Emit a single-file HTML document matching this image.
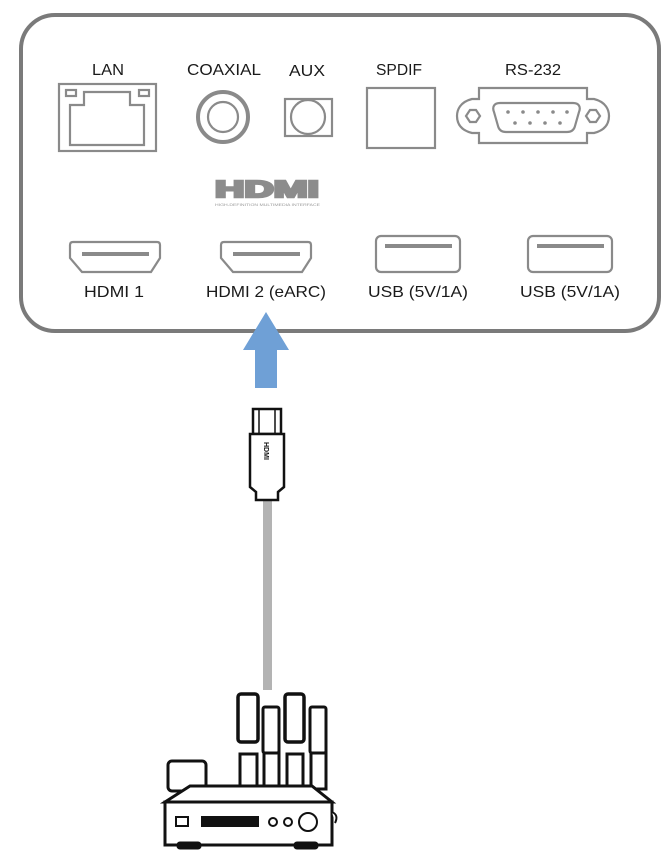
<!DOCTYPE html>
<html><head><meta charset="utf-8"><style>
html,body{margin:0;padding:0;background:#fff;}
svg{display:block;}
text{font-family:"Liberation Sans",sans-serif;fill:#1a1a1a;}
</style></head><body>
<svg width="671" height="865" viewBox="0 0 671 865" xmlns="http://www.w3.org/2000/svg">
<rect x="21" y="15" width="638" height="316" rx="34" fill="#fff" stroke="#7a7a7a" stroke-width="4"/>
<g font-size="16" text-anchor="middle">
<text x="108" y="75" textLength="32" lengthAdjust="spacingAndGlyphs">LAN</text>
<text x="224" y="75" textLength="74" lengthAdjust="spacingAndGlyphs">COAXIAL</text>
<text x="307" y="76" textLength="36" lengthAdjust="spacingAndGlyphs">AUX</text>
<text x="399" y="75" textLength="46" lengthAdjust="spacingAndGlyphs">SPDIF</text>
<text x="533" y="75" textLength="56" lengthAdjust="spacingAndGlyphs">RS-232</text>
<text x="114" y="297" textLength="60" lengthAdjust="spacingAndGlyphs">HDMI 1</text>
<text x="266" y="297" textLength="120" lengthAdjust="spacingAndGlyphs">HDMI 2 (eARC)</text>
<text x="418" y="297" textLength="100" lengthAdjust="spacingAndGlyphs">USB (5V/1A)</text>
<text x="570" y="297" textLength="100" lengthAdjust="spacingAndGlyphs">USB (5V/1A)</text>
</g>
<g fill="none" stroke="#8a8a8a" stroke-width="2.2">
<rect x="59" y="84" width="97" height="67"/>
<path d="M70 145 V105 H84 V92 H130 V105 H144 V145 Z"/>
<rect x="66" y="90" width="10" height="6"/>
<rect x="139" y="90" width="10" height="6"/>
<circle cx="223" cy="117" r="25" stroke-width="4"/>
<circle cx="223" cy="117" r="15"/>
<rect x="285" y="99" width="47" height="37"/>
<circle cx="308" cy="117" r="17"/>
<rect x="367" y="88" width="68" height="60"/>
<path d="M479 99 H472 C460 102 457 110 457 116 C457 123 460 130 472 133 H479 V143 H587 V133 H594 C606 130 609 123 609 116 C609 110 606 102 594 99 H587 V88 H479 Z"/>
<path d="M466 116 l4 -6 h6 l4 6 l-4 6 h-6 z"/>
<path d="M586 116 l4 -6 h6 l4 6 l-4 6 h-6 z"/>
<path d="M500 103 H573 C579 103 581 107 579 112 L575 126 C574 130 571 132 567 132 H506 C502 132 499 130 498 126 L494 112 C492 107 494 103 500 103 Z"/>
<path d="M73 242 H157 C159 242 160 243 160 245 V258 L151 272 H82 L70 258 V245 C70 243 71 242 73 242 Z"/>
<path d="M224 242 H308 C310 242 311 243 311 245 V258 L302 272 H233 L221 258 V245 C221 243 222 242 224 242 Z"/>
<rect x="376" y="236" width="84" height="36" rx="5"/>
<rect x="528" y="236" width="84" height="36" rx="5"/>
</g>
<g fill="#8a8a8a">
<rect x="82" y="252" width="67" height="4"/>
<rect x="233" y="252" width="67" height="4"/>
<rect x="385" y="244" width="67" height="4"/>
<rect x="537" y="244" width="67" height="4"/>
<circle cx="508" cy="112" r="1.8"/><circle cx="523" cy="112" r="1.8"/><circle cx="538" cy="112" r="1.8"/><circle cx="553" cy="112" r="1.8"/><circle cx="567" cy="112" r="1.8"/>
<circle cx="515" cy="123" r="1.8"/><circle cx="530" cy="123" r="1.8"/><circle cx="545" cy="123" r="1.8"/><circle cx="560" cy="123" r="1.8"/>
</g>
<text x="215" y="197" font-size="23" font-weight="bold" style="fill:#8c8c8c;stroke:#8c8c8c;stroke-width:2.5" textLength="104" lengthAdjust="spacingAndGlyphs">HDMI</text>
<text x="215" y="206" font-size="4" style="fill:#999" textLength="105" lengthAdjust="spacingAndGlyphs">HIGH-DEFINITION MULTIMEDIA INTERFACE</text>
<path d="M266 312 L289 350 H277 V388 H255 V350 H243 Z" fill="#6fa0d6"/>
<rect x="263" y="498" width="9" height="192" fill="#b3b3b3"/>
<g fill="#fff" stroke="#111" stroke-width="2.5">
<rect x="253" y="409" width="28" height="25"/>
<path d="M250 434 H284 V487 L278 492 V500 H256 V492 L250 487 Z"/>
</g>
<line x1="259" y1="409" x2="259" y2="434" stroke="#111" stroke-width="1.5"/>
<line x1="275" y1="409" x2="275" y2="434" stroke="#111" stroke-width="1.5"/>
<text x="0" y="0" font-size="7" font-weight="bold" transform="translate(264,442) rotate(90)" style="fill:#111">HDMI</text>
<g fill="#fff" stroke="#111" stroke-width="3">
<rect x="168" y="761" width="38" height="30" rx="4"/>
<rect x="240" y="754" width="17" height="35"/>
<rect x="264" y="752" width="15" height="37"/>
<rect x="287" y="754" width="16" height="35"/>
<rect x="311" y="752" width="15" height="37"/>
<rect x="238" y="694" width="20" height="48" rx="3" stroke-width="3.5"/>
<rect x="263" y="707" width="16" height="46" rx="2"/>
<rect x="285" y="694" width="19" height="48" rx="3" stroke-width="3.5"/>
<rect x="310" y="707" width="16" height="46" rx="2"/>
<path d="M165 802 L190 786 H312 L332 802 Z"/>
<rect x="165" y="802" width="167" height="43"/>
<rect x="178" y="843" width="22" height="5" rx="2" fill="#111"/>
<rect x="295" y="843" width="22" height="5" rx="2" fill="#111"/>
<rect x="176" y="817" width="12" height="9" stroke-width="2"/>
<circle cx="273" cy="822" r="4" stroke-width="2"/>
<circle cx="288" cy="822" r="4" stroke-width="2"/>
<circle cx="308" cy="822" r="9" stroke-width="2"/>
<path d="M332 812 Q339 815 335 823" stroke-width="2"/>
</g>
<rect x="201" y="816" width="58" height="11" fill="#111"/>
</svg>
</body></html>
